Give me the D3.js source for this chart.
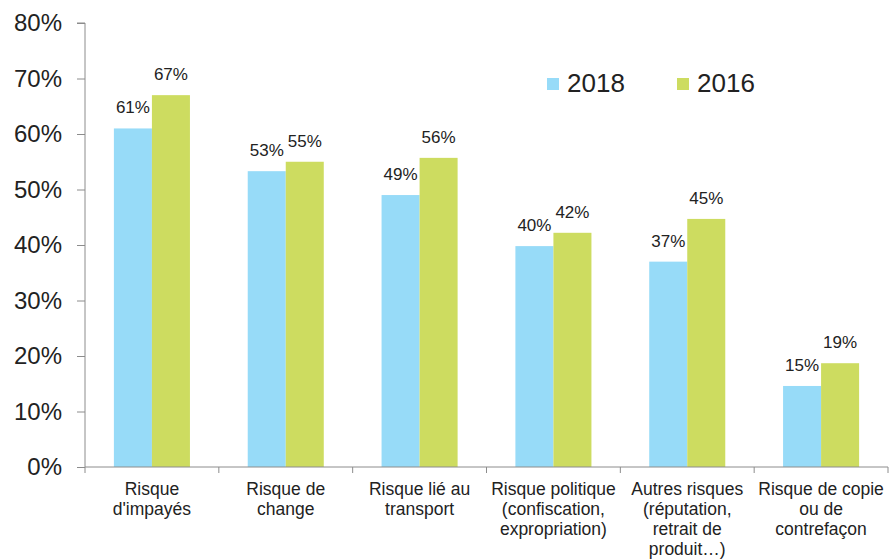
<!DOCTYPE html>
<html>
<head>
<meta charset="utf-8">
<script src="https://cdn.jsdelivr.net/npm/d3@7"></script>
<style>
  body { margin: 0; background: #fff; }
  text { font-family: "Liberation Sans", Arial, sans-serif; fill: #222; }
</style>
</head>
<body>
<svg id="chart" width="892" height="560"></svg>
<script>
// data
const categories = [
    ["Risque", "d'impayés"],
    ["Risque de", "change"],
    ["Risque lié au", "transport"],
    ["Risque politique", "(confiscation,", "expropriation)"],
    ["Autres risques", "(réputation,", "retrait de", "produit…)"],
    ["Risque de copie", "ou de", "contrefaçon"]
];
const series = ["2018", "2016"];
const values2018 = [61, 53.3, 49, 39.8, 37, 14.6];
const values2016 = [67, 55, 55.7, 42.2, 44.7, 18.7];
const labels2018 = ["61%", "53%", "49%", "40%", "37%", "15%"];
const labels2016 = ["67%", "55%", "56%", "42%", "45%", "19%"];
const yTicks = [0, 10, 20, 30, 40, 50, 60, 70, 80];

const colors = { "2018": "#97dbf8", "2016": "#cddc60" };

const svg = d3.select("#chart");
const margin = { left: 85, right: 4, top: 23, bottom: 93 };
const width = 892, height = 560;

const x = d3.scaleBand()
    .domain(d3.range(categories.length))
    .range([margin.left, width - margin.right])
    .paddingInner(0)
    .paddingOuter(0);

// two bars ~38px wide in a ~134px band
const xSub = d3.scaleBand()
    .domain(series)
    .range([0, x.bandwidth()])
    .paddingInner(0)
    .paddingOuter(0.76);

const y = d3.scaleLinear()
    .domain([0, 80])
    .range([height - margin.bottom, margin.top]);

// y axis
const yAxis = svg.append("g")
    .attr("transform", `translate(${margin.left},0)`)
    .call(d3.axisLeft(y).tickValues(yTicks).tickSize(8).tickPadding(15).tickFormat(d => d + "%"));
yAxis.selectAll("text").style("font-size", "24px").attr("fill", "#222");
yAxis.selectAll("line").attr("stroke", "#8c8c8c");
yAxis.select(".domain").attr("stroke", "#8c8c8c").attr("d", `M-8,${y(80)}H0V${y(0)}`);

// bars
const rows = categories.map((c, i) => ({
    i,
    vals: [
        { s: "2018", v: values2018[i], label: labels2018[i] },
        { s: "2016", v: values2016[i], label: labels2016[i] }
    ]
}));

const groups = svg.append("g").selectAll("g")
    .data(rows)
    .join("g")
    .attr("transform", d => `translate(${x(d.i)},0)`);

groups.selectAll("rect")
    .data(d => d.vals)
    .join("rect")
    .attr("x", d => xSub(d.s))
    .attr("width", xSub.bandwidth())
    .attr("y", d => y(d.v))
    .attr("height", d => y(0) - y(d.v))
    .attr("fill", d => colors[d.s]);

groups.selectAll("text.val")
    .data(d => d.vals)
    .join("text")
    .attr("class", "val")
    .attr("x", d => xSub(d.s) + xSub.bandwidth() / 2)
    .attr("y", d => y(d.v) - 15)
    .attr("text-anchor", "middle")
    .style("font-size", "17px")
    .text(d => d.label);

// x axis
const xAxis = svg.append("g")
    .attr("transform", `translate(0,${y(0)})`);
xAxis.append("line")
    .attr("x1", margin.left).attr("x2", width - margin.right)
    .attr("stroke", "#8c8c8c");
xAxis.selectAll("line.tick")
    .data(d3.range(categories.length + 1))
    .join("line")
    .attr("class", "tick")
    .attr("x1", i => i < categories.length ? x(i) : x(i - 1) + x.bandwidth())
    .attr("x2", i => i < categories.length ? x(i) : x(i - 1) + x.bandwidth())
    .attr("y1", 0).attr("y2", 6)
    .attr("stroke", "#8c8c8c");

xAxis.selectAll("text")
    .data(categories)
    .join("text")
    .attr("text-anchor", "middle")
    .style("font-size", "17.5px")
    .each(function (lines, i) {
        d3.select(this).selectAll("tspan")
            .data(lines)
            .join("tspan")
            .attr("x", x(i) + x.bandwidth() / 2)
            .attr("y", (d, k) => 28 + k * 20)
            .text(d => d);
    });

// legend
const legend = svg.append("g").attr("transform", "translate(547,78)");
const legendX = [0, 130];
series.forEach((s, k) => {
    const g = legend.append("g").attr("transform", `translate(${legendX[k]},0)`);
    g.append("rect").attr("width", 12).attr("height", 12).attr("fill", colors[s]);
    g.append("text").attr("x", 20).attr("y", 14).style("font-size", "26px").text(s);
});
</script>
</body>
</html>
